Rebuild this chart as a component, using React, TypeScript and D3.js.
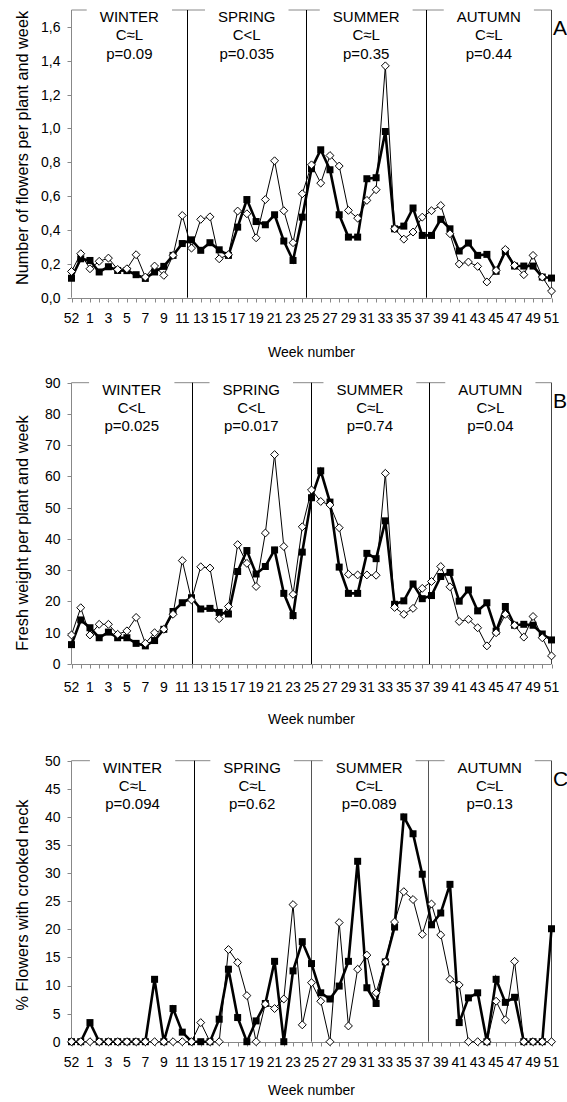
import React, { useEffect, useRef } from "react";
import * as d3 from "d3";

// Week sequence on the category axis (week 52 of the previous year, week 53, then 1..51)
const weeks = [
  52, 53, 1, 2, 3, 4, 5, 6, 7, 8, 9, 10, 11, 12, 13, 14, 15, 16, 17, 18, 19, 20, 21, 22, 23, 24, 25,
  26, 27, 28, 29, 30, 31, 32, 33, 34, 35, 36, 37, 38, 39, 40, 41, 42, 43, 44, 45, 46, 47, 48, 49, 50, 51,
];

const weekTickLabels = [
  "52", "1", "3", "5", "7", "9", "11", "13", "15", "17", "19", "21", "23", "25",
  "27", "29", "31", "33", "35", "37", "39", "41", "43", "45", "47", "49", "51",
];

const seasons = ["WINTER", "SPRING", "SUMMER", "AUTUMN"];

// Panel A: number of flowers per plant and week
const flowersFilled = [
  0.115, 0.23, 0.22, 0.152, 0.183, 0.161, 0.16, 0.136, 0.114, 0.152, 0.185, 0.25, 0.32,
  0.342, 0.28, 0.325, 0.283, 0.25, 0.417, 0.58, 0.45, 0.431, 0.49, 0.335, 0.22, 0.476,
  0.762, 0.874, 0.756, 0.49, 0.358, 0.358, 0.703, 0.709, 0.982, 0.407, 0.423, 0.53, 0.368,
  0.368, 0.463, 0.407, 0.276, 0.323, 0.25, 0.256, 0.156, 0.274, 0.187, 0.187, 0.187, 0.122, 0.116,
];
const flowersOpen = [
  0.155, 0.26, 0.171, 0.215, 0.234, 0.167, 0.171, 0.254, 0.122, 0.187, 0.132, 0.25, 0.486,
  0.293, 0.463, 0.478, 0.23, 0.254, 0.512, 0.496, 0.354, 0.58, 0.809, 0.514, 0.325, 0.614,
  0.785, 0.677, 0.84, 0.778, 0.516, 0.47, 0.575, 0.638, 1.37, 0.407, 0.346, 0.388, 0.476,
  0.514, 0.545, 0.378, 0.199, 0.211, 0.185, 0.093, 0.161, 0.285, 0.191, 0.136, 0.25, 0.122, 0.039,
];
const flowersTicks = [0, 0.2, 0.4, 0.6, 0.8, 1.0, 1.2, 1.4, 1.6];
const flowersComparison = ["C\u2248L", "C<L", "C\u2248L", "C\u2248L"];
const flowersP = ["p=0.09", "p=0.035", "p=0.35", "p=0.44"];
const flowersBreaks = [12.54, 25.43, 38.42];

// Panel B: fresh weight per plant and week
const weightFilled = [
  6.2, 14.1, 11.6, 8.4, 10.2, 8.4, 8.4, 6.6, 5.8, 7.5, 11.1, 16.8, 19.6,
  21.2, 17.6, 17.8, 16.5, 16.0, 29.6, 36.3, 28.8, 31.2, 36.5, 22.6, 15.5, 35.8,
  53.2, 61.8, 51.8, 31.0, 22.6, 22.6, 35.4, 33.7, 45.8, 19.1, 20.2, 25.6, 20.9,
  21.9, 28.0, 29.3, 20.1, 23.7, 17.0, 19.6, 10.5, 18.4, 12.4, 12.7, 12.4, 9.6, 7.7,
];
const weightOpen = [
  9.3, 18.0, 9.3, 12.7, 12.7, 9.5, 10.6, 14.9, 6.6, 10.0, 11.1, 15.9, 33.1,
  20.5, 31.1, 30.7, 14.5, 18.4, 38.2, 32.2, 24.8, 41.9, 67.0, 37.6, 22.3, 43.9,
  55.7, 52.0, 50.9, 43.6, 28.7, 28.5, 28.5, 28.4, 61.0, 18.1, 15.9, 17.8, 24.2,
  26.4, 31.2, 24.7, 13.6, 14.3, 11.6, 5.8, 10.0, 15.9, 12.4, 8.6, 15.2, 8.4, 2.6,
];
const weightTicks = [0, 10, 20, 30, 40, 50, 60, 70, 80, 90];
const weightComparison = ["C<L", "C<L", "C\u2248L", "C>L"];
const weightP = ["p=0.025", "p=0.017", "p=0.74", "p=0.04"];
const weightBreaks = [13.05, 25.9, 38.75];

// Panel C: percentage of flowers with crooked neck
const crookedFilled = [
  0, 0, 3.4, 0, 0, 0, 0, 0, 0, 11.1, 0, 5.9, 1.7,
  0, 0, 0, 4.0, 12.9, 4.3, 0, 3.7, 6.8, 14.3, 0, 12.6, 17.8,
  13.9, 8.7, 7.6, 9.9, 14.3, 32.1, 9.6, 6.8, 14.2, 20.4, 40.0, 37.0, 29.8,
  20.8, 22.9, 28.0, 3.4, 7.8, 8.7, 0, 11.1, 7.0, 7.9, 0, 0, 0, 20.1,
];
const crookedOpen = [
  0, 0, 0, 0, 0, 0, 0, 0, 0, 0, 0, 0, 0,
  0, 3.4, 0, 0, 16.4, 14.1, 8.2, 0, 6.7, 5.9, 7.6, 24.4, 3.0,
  10.5, 7.2, 0, 21.2, 2.8, 12.9, 15.4, 8.7, 14.2, 21.3, 26.7, 25.3, 19.1,
  24.5, 19.0, 11.1, 10.1, 0, 0, 0, 7.2, 3.9, 14.3, 0, 0, 0, 0,
];
const crookedTicks = [0, 5, 10, 15, 20, 25, 30, 35, 40, 45, 50];
const crookedComparison = ["C\u2248L", "C\u2248L", "C\u2248L", "C\u2248L"];
const crookedP = ["p=0.094", "p=0.62", "p=0.089", "p=0.13"];
const crookedBreaks = [13.23, 25.9, 38.6];

const FONT = "'Liberation Sans', Arial, Helvetica, sans-serif";
const W = 567;
const H = 1102;
const PLOT_LEFT = 71.5;
const PLOT_RIGHT = 551.5;

type Panel = {
  letter: string;
  top: number;
  bottom: number;
  yMax: number;
  ticks: number[];
  fmt: (v: number) => string;
  title: string;
  titleY: number;
  tickLabelGap: number;
  axisTitleGap: number;
  filled: number[];
  open: number[];
  comparison: string[];
  pValues: string[];
  breaks: number[];
  breakColor: string[];
};

const commaFmt = (v: number) => d3.format(".1f")(v).replace(".", ",");
const intFmt = (v: number) => d3.format("d")(v);

const panels: Panel[] = [
  {
    letter: "A", top: 10, bottom: 297.7, yMax: 1.7, ticks: flowersTicks, fmt: commaFmt,
    title: "Number of flowers per plant and week", titleY: 148,
    tickLabelGap: 25.5, axisTitleGap: 59.5,
    filled: flowersFilled, open: flowersOpen, comparison: flowersComparison, pValues: flowersP,
    breaks: flowersBreaks, breakColor: ["#000", "#000", "#000"],
  },
  {
    letter: "B", top: 382.7, bottom: 664, yMax: 90, ticks: weightTicks, fmt: intFmt,
    title: "Fresh weight per plant and week", titleY: 533,
    tickLabelGap: 27.5, axisTitleGap: 59.5,
    filled: weightFilled, open: weightOpen, comparison: weightComparison, pValues: weightP,
    breaks: weightBreaks, breakColor: ["#000", "#000", "#000"],
  },
  {
    letter: "C", top: 760.7, bottom: 1041.7, yMax: 50, ticks: crookedTicks, fmt: intFmt,
    title: "% Flowers  with crooked neck", titleY: 905,
    tickLabelGap: 25, axisTitleGap: 53.5,
    filled: crookedFilled, open: crookedOpen, comparison: crookedComparison, pValues: crookedP,
    breaks: crookedBreaks, breakColor: ["#000", "#555", "#555"],
  },
];

export default function App() {
  const ref = useRef<SVGSVGElement | null>(null);

  useEffect(() => {
    const svg = d3.select(ref.current);
    svg.selectAll("*").remove();

    const x = d3
      .scalePoint<number>()
      .domain(weeks)
      .range([PLOT_LEFT, PLOT_RIGHT]);
    const xPos = d3.scaleLinear().domain([0, weeks.length - 1]).range([PLOT_LEFT, PLOT_RIGHT]);

    panels.forEach((p) => {
      const g = svg.append("g");
      const y = d3.scaleLinear().domain([0, p.yMax]).range([p.bottom, p.top]);

      // frame: top and right edges
      g.append("line")
        .attr("x1", PLOT_LEFT).attr("x2", PLOT_RIGHT)
        .attr("y1", p.top).attr("y2", p.top)
        .attr("stroke", "#888").attr("stroke-width", 1);
      g.append("line")
        .attr("x1", PLOT_RIGHT).attr("x2", PLOT_RIGHT)
        .attr("y1", p.top).attr("y2", p.bottom)
        .attr("stroke", "#444").attr("stroke-width", 1);

      // season separators
      p.breaks.forEach((b, i) => {
        g.append("line")
          .attr("x1", Math.round(xPos(b)) + 0.5).attr("x2", Math.round(xPos(b)) + 0.5)
          .attr("y1", p.top).attr("y2", p.bottom)
          .attr("stroke", p.breakColor[i]).attr("stroke-width", 1);
      });

      // season headers with white backing
      const edges = [0, ...p.breaks, weeks.length - 1];
      seasons.forEach((s, i) => {
        const cx = (xPos(edges[i]) + xPos(edges[i + 1])) / 2;
        const tg = g.append("g");
        const t = tg.append("text")
          .attr("x", cx).attr("y", p.top + 12)
          .attr("text-anchor", "middle")
          .attr("font-family", FONT).attr("font-size", 15).attr("fill", "#000");
        [s, p.comparison[i], p.pValues[i]].forEach((line, k) => {
          t.append("tspan").attr("x", cx).attr("dy", k === 0 ? 0 : 18.3).text(line);
        });
        const node = t.node() as SVGTextElement;
        const bb = node.getBBox();
        tg.insert("rect", "text")
          .attr("x", cx - bb.width / 2 - 13)
          .attr("y", p.top - 3)
          .attr("width", bb.width + 26)
          .attr("height", bb.y + bb.height - p.top + 5)
          .attr("fill", "#fff");
      });

      // left axis
      g.append("line")
        .attr("x1", PLOT_LEFT).attr("x2", PLOT_LEFT)
        .attr("y1", p.top).attr("y2", p.bottom)
        .attr("stroke", "#888").attr("stroke-width", 1);
      p.ticks.forEach((v) => {
        const yy = Math.round(y(v)) + 0.5;
        g.append("line")
          .attr("x1", PLOT_LEFT - 4).attr("x2", PLOT_LEFT)
          .attr("y1", yy).attr("y2", yy)
          .attr("stroke", "#888").attr("stroke-width", 1);
        g.append("text")
          .attr("x", 60.5).attr("y", y(v))
          .attr("dy", "0.35em")
          .attr("text-anchor", "end")
          .attr("font-family", FONT).attr("font-size", 14).attr("fill", "#000")
          .text(p.fmt(v));
      });

      // bottom axis
      const by = Math.round(p.bottom) + 0.5;
      g.append("line")
        .attr("x1", PLOT_LEFT).attr("x2", PLOT_RIGHT)
        .attr("y1", by).attr("y2", by)
        .attr("stroke", "#888").attr("stroke-width", 1);
      weeks.forEach((w) => {
        const xx = Math.round(x(w)!) + 0.5;
        g.append("line")
          .attr("x1", xx).attr("x2", xx)
          .attr("y1", by).attr("y2", by + 4)
          .attr("stroke", "#888").attr("stroke-width", 1);
      });
      weekTickLabels.forEach((lab) => {
        g.append("text")
          .attr("x", x(+lab)!).attr("y", p.bottom + p.tickLabelGap)
          .attr("text-anchor", "middle")
          .attr("font-family", FONT).attr("font-size", 14).attr("fill", "#000")
          .text(lab);
      });
      g.append("text")
        .attr("x", (PLOT_LEFT + PLOT_RIGHT) / 2).attr("y", p.bottom + p.axisTitleGap)
        .attr("text-anchor", "middle")
        .attr("font-family", FONT).attr("font-size", 14).attr("fill", "#000")
        .text("Week number");

      // y title
      g.append("text")
        .attr("transform", `translate(28,${p.titleY}) rotate(-90)`)
        .attr("text-anchor", "middle")
        .attr("font-family", FONT).attr("font-size", 16.3).attr("fill", "#000")
        .text(p.title);

      // panel letter
      g.append("text")
        .attr("x", 553).attr("y", p.top + 25)
        .attr("font-family", FONT).attr("font-size", 21).attr("fill", "#000")
        .text(p.letter);

      // filled-square series
      const lineGen = d3
        .line<number>()
        .x((_, i) => x(weeks[i])!)
        .y((d) => y(d));
      g.append("path")
        .attr("d", lineGen(p.filled))
        .attr("fill", "none").attr("stroke", "#000").attr("stroke-width", 2.6)
        .attr("stroke-linejoin", "miter");
      g.selectAll(null)
        .data(p.filled)
        .enter()
        .append("rect")
        .attr("x", (_, i) => x(weeks[i])! - 3.5)
        .attr("y", (d) => y(d) - 3.5)
        .attr("width", 7).attr("height", 7)
        .attr("fill", "#000");

      // open-diamond series
      g.append("path")
        .attr("d", lineGen(p.open))
        .attr("fill", "none").attr("stroke", "#000").attr("stroke-width", 1);
      const diamond = d3.symbol().type(d3.symbolDiamond2).size(40)();
      g.selectAll(null)
        .data(p.open)
        .enter()
        .append("path")
        .attr("d", diamond)
        .attr("transform", (d, i) => `translate(${x(weeks[i])},${y(d)})`)
        .attr("fill", "#fff").attr("stroke", "#000").attr("stroke-width", 1);
    });
  }, []);

  return (
    <svg
      ref={ref}
      width={W}
      height={H}
      style={{ position: "absolute", left: 0, top: 0, background: "#fff" }}
    />
  );
}
